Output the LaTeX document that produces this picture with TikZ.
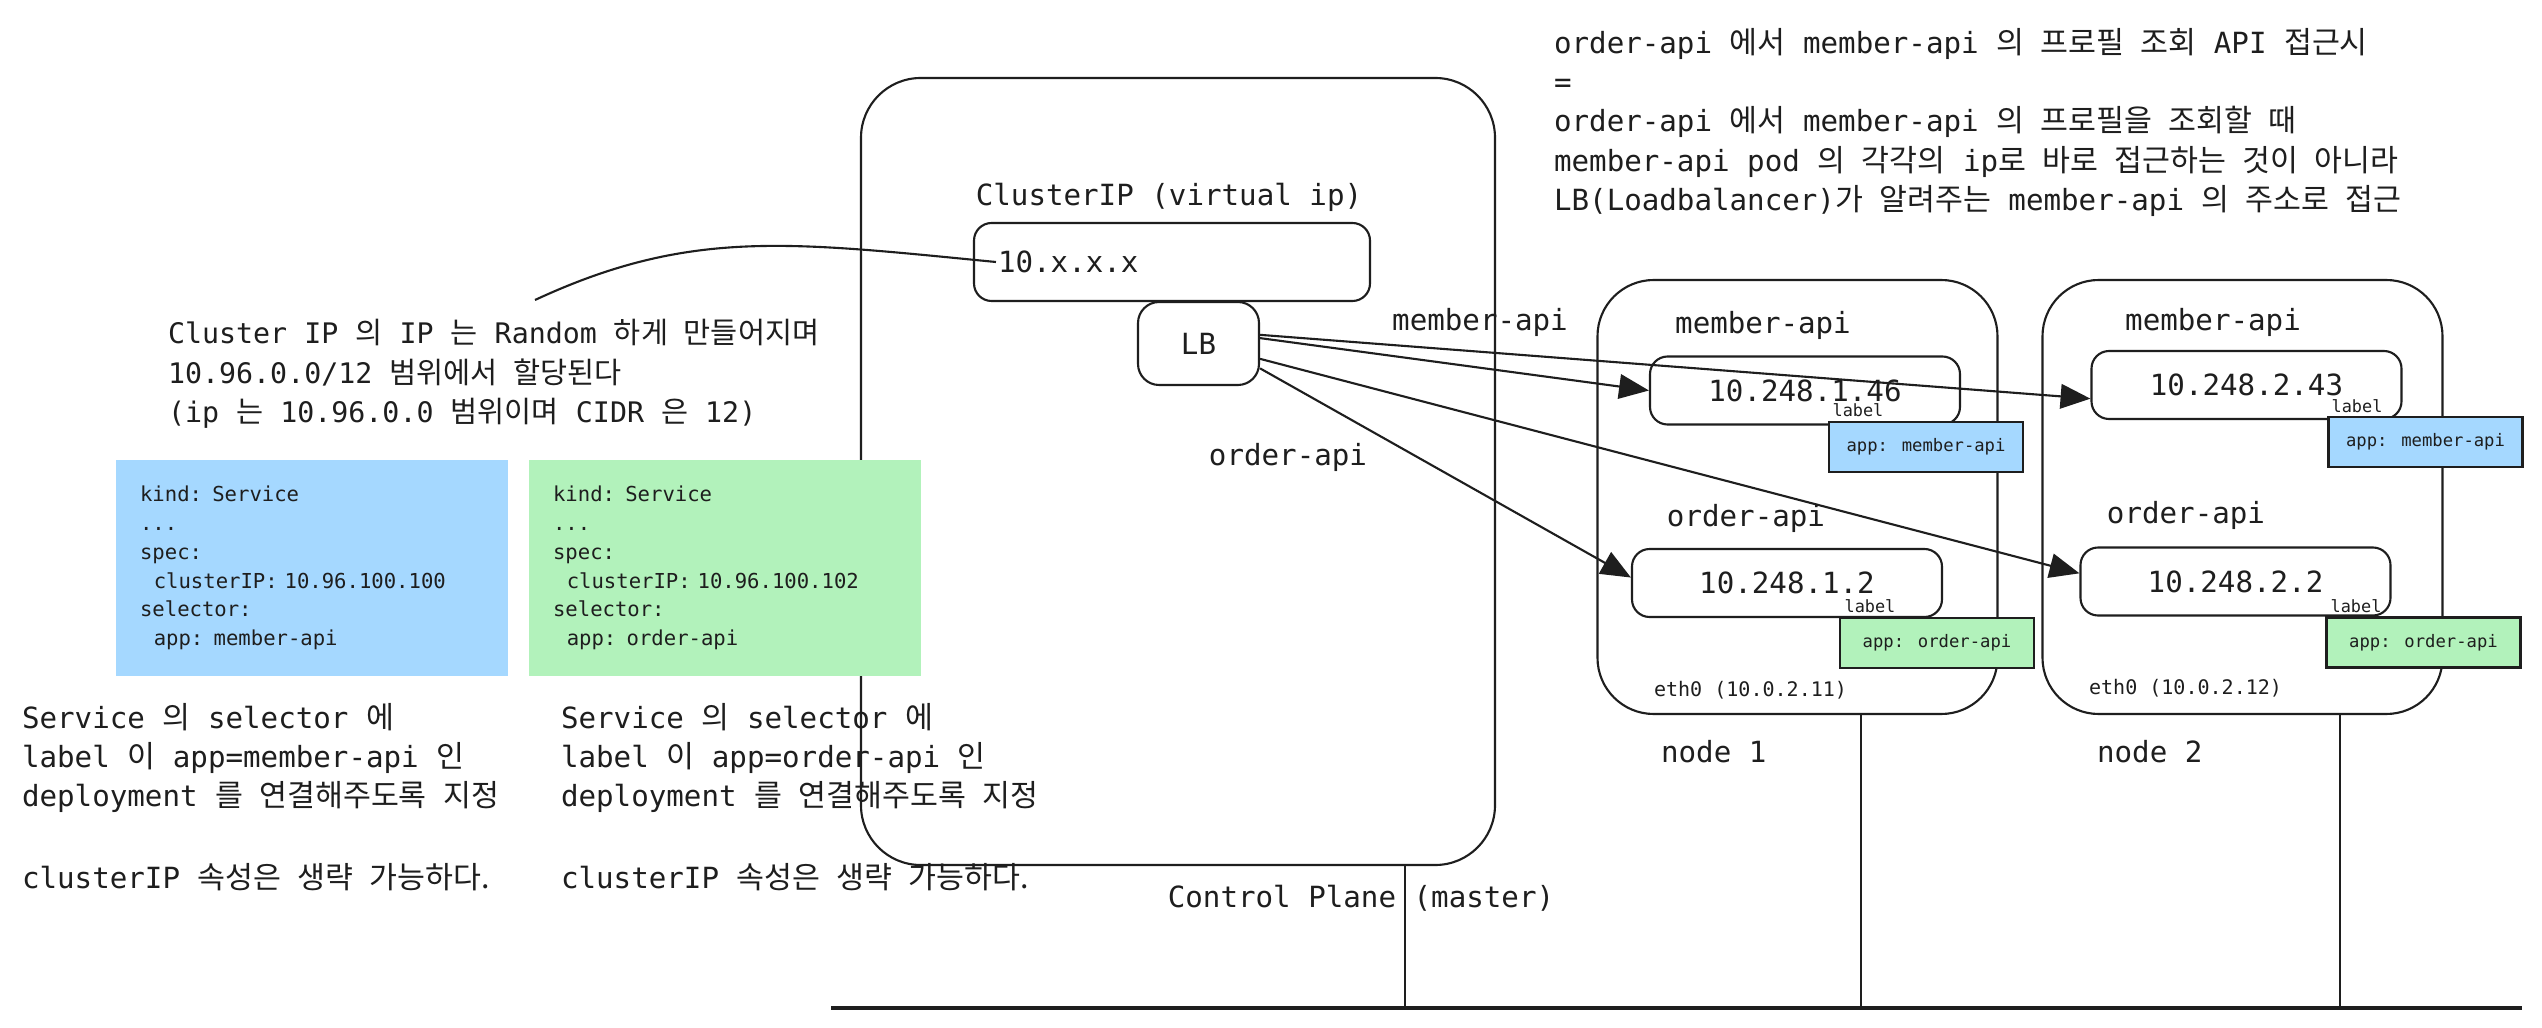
\documentclass[tikz,border=0pt]{standalone}
\usepackage{fontspec}
\setmainfont{DejaVu Sans Mono}
\newfontfamily\kr[Scale=1.04, WordSpace=2.4]{Noto Sans CJK KR}
\usetikzlibrary{positioning, arrows.meta}
\definecolor{ink}{HTML}{1E1E1E}
\definecolor{svcblue}{HTML}{A5D8FF}
\definecolor{svcgreen}{HTML}{B2F2BB}
\tikzset{>={Triangle[length=8.5pt,width=7pt]},
txt/.style={font=\fontsize{8.3}{11.2}\selectfont, inner sep=0pt},
note/.style={txt, align=left, anchor=north west},
tiny/.style={font=\fontsize{4.8}{6}\selectfont, inner sep=0pt},
eth/.style={font=\fontsize{5.7}{7}\selectfont, inner sep=0pt, anchor=west},
pod/.style={draw, rounded corners=5pt, minimum width=3.1cm, minimum height=0.68cm, txt},
applabel/.style={draw, minimum width=1.94cm, minimum height=0.5cm, inner sep=0pt, font=\fontsize{4.9}{6}\selectfont},
hostbox/.style={draw, rounded corners=16pt, minimum width=4.0cm, minimum height=4.34cm},
yaml/.style={anchor=north west, minimum width=3.92cm, minimum height=2.16cm, inner xsep=0.24cm, inner ysep=0pt, text width=3.44cm, align=left, font=\fontsize{5.86}{8.2}\selectfont},
}

\begin{document}
\begin{tikzpicture}[x=1cm, y=-1cm, line width=0.6pt, color=ink]
    \useasboundingbox[fill=white] (0,0) rectangle (25.42,10.28);
    % control plane
    \node[draw, rounded corners=17pt, minimum width=6.34cm, minimum height=7.87cm] (cp) at (11.78,4.715) {};
    \node[txt] (cliptitle) at (11.69,1.97) {ClusterIP (virtual ip)};
    \node[draw, rounded corners=5pt, minimum width=3.96cm, minimum height=0.78cm, txt, inner xsep=0.24cm, text width=3.48cm, align=left] (vip) at (11.72,2.62) {10.x.x.x};
    \node[draw, rounded corners=6pt, minimum width=1.21cm, minimum height=0.83cm, txt] (lb) at (11.985,3.435) {LB};
    \node[txt] (memlbl) at (14.80,3.22) {member-api};
    \node[txt] (ordlbl) at (12.88,4.57) {order-api};
    \node[txt] (cptitle) at (13.61,8.98) {Control Plane (master)};

    % worker nodes
    \node[hostbox] (n1) at (17.975,4.97) {};
    \node[hostbox] (n2) at (22.425,4.97) {};
    \node[txt] (n1mem) at (17.63,3.25) {member-api};
    \node[txt] (n1ord) at (17.46,5.18) {order-api};
    \node[txt] (n2mem) at (22.13,3.22) {member-api};
    \node[txt] (n2ord) at (21.86,5.15) {order-api};
    \node[pod] (p146) at (18.05,3.905) {10.248.1.46};
    \node[pod] (p12) at (17.87,5.83) {10.248.1.2};
    \node[pod] (p243) at (22.465,3.85) {10.248.2.43};
    \node[pod] (p22) at (22.355,5.815) {10.248.2.2};
    \node[tiny] (t146) at (18.58,4.10) {label};
    \node[tiny] (t12) at (18.70,6.06) {label};
    \node[tiny] (t243) at (23.57,4.06) {label};
    \node[tiny] (t22) at (23.56,6.06) {label};
    \node[applabel, fill=svcblue] (a146) at (19.26,4.47) {app: member-api};
    \node[applabel, fill=svcgreen] (a12) at (19.37,6.43) {app: order-api};
    \node[applabel, fill=svcblue] (a243) at (24.255,4.42) {app: member-api};
    \node[applabel, fill=svcgreen] (a22) at (24.235,6.425) {app: order-api};
    \node[eth] (n1eth) at (16.53,6.90) {eth0 (10.0.2.11)};
    \node[eth] (n2eth) at (20.88,6.88) {eth0 (10.0.2.12)};
    \node[txt, anchor=west] (n1name) at (16.60,7.52) {node 1};
    \node[txt, anchor=west] (n2name) at (20.96,7.52) {node 2};

    % network
    \coordinate (busL) at (8.31,10.08);
    \coordinate (busR) at (25.22,10.08);
    \coordinate (busCP) at (14.05,10.08);
    \coordinate (busN1) at (18.61,10.08);
    \coordinate (busN2) at (23.40,10.08);
    \draw[line width=1.1pt] (busL) -- (busR);
    \draw (cp.south -| busCP) -- (busCP);
    \draw (n1.south -| busN1) -- (busN1);
    \draw (n2.south -| busN2) -- (busN2);

    % LB to pods
    \draw[->] (lb.8) -- (p243.185);
    \draw[->] (lb.5) -- (p146.west);
    \draw[->] (lb.-14) -- (p22.177);
    \draw[->] (lb.-22) -- (p12.178);

    % services
    \node[yaml, fill=svcblue] (svcmem) at (1.15,4.59) {kind: Service\\...\\spec:\\~~clusterIP: 10.96.100.100\\selector:\\~~app: member-api};
    \node[yaml, fill=svcgreen] (svcord) at (5.28,4.59) {kind: Service\\...\\spec:\\~~clusterIP: 10.96.100.102\\selector:\\~~app: order-api};

    % notes
    \node[note] (topnote) at (15.53,0.27) {order-api {\kr 에서} member-api {\kr 의 프로필 조회} API {\kr 접근시}\\=\\order-api {\kr 에서} member-api {\kr 의 프로필을 조회할 때}\\member-api pod {\kr 의 각각의} ip{\kr 로 바로 접근하는 것이 아니라}\\LB(Loadbalancer){\kr 가 알려주는} member-api {\kr 의 주소로 접근}};
    \node[note, font=\fontsize{8.05}{11.3}\selectfont] (ipnote) at (1.67,3.18) {Cluster IP {\kr 의} IP {\kr 는} Random {\kr 하게 만들어지며}\\10.96.0.0/12 {\kr 범위에서 할당된다}\\(ip {\kr 는} 10.96.0.0 {\kr 범위이며} CIDR {\kr 은} 12)};
    \node[note] (memnote) at (0.21,7.02) {Service {\kr 의} selector {\kr 에}\\label {\kr 이} app=member-api {\kr 인}\\deployment {\kr 를 연결해주도록 지정}\\[12pt]clusterIP {\kr 속성은 생략 가능하다.}};
    \node[note] (ordnote) at (5.60,7.02) {Service {\kr 의} selector {\kr 에}\\label {\kr 이} app=order-api {\kr 인}\\deployment {\kr 를 연결해주도록 지정}\\[12pt]clusterIP {\kr 속성은 생략 가능하다.}};
    \coordinate (ipcurve) at (5.35,3.00);
    \draw (ipcurve) .. controls (6.9,2.28) and (7.9,2.42) .. ([xshift=2.3mm]vip.west);
\end{tikzpicture}
\end{document}
